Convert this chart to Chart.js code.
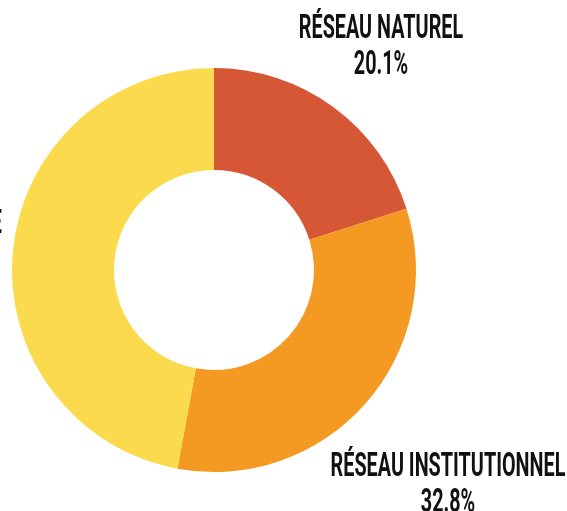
<!DOCTYPE html>
<html>
<head>
<meta charset="utf-8">
<script src="https://cdn.jsdelivr.net/npm/chart.js@4"></script>
<style>
  html, body { margin: 0; padding: 0; background: #fff; overflow: hidden; }
  #reseauChart { display: block; }
</style>
</head>
<body>
<canvas id="reseauChart" width="567" height="511"></canvas>
<script>
const categories = ['RÉSEAU NATUREL', 'RÉSEAU INSTITUTIONNEL', 'RÉSEAU MIXTE'];
const shares = [20.1, 32.8, 47.1];
const colors = ['#D55735', '#F49A23', '#FBDB4D'];

const ctx = document.getElementById('reseauChart');

new Chart(ctx, {
  type: 'doughnut',
  data: {
    labels: categories,
    datasets: [
      {
        data: shares,
        backgroundColor: colors,
        borderWidth: 0,
        hoverOffset: 0,
      },
    ],
  },
  options: {
    responsive: false,
    animation: false,
    cutout: '49.5%',
    layout: {
      padding: { left: 12, right: 151, top: 68, bottom: 39 },
    },
    plugins: {
      legend: { display: false },
      tooltip: { enabled: false },
      sliceLabels: {
        // anchor = centre of the label block (x) and baseline of its first line (y)
        anchors: [
          { x: 381, y: 38, align: 'center' },
          { x: 448, y: 476, align: 'center' },
          { x: 2, y: 233, align: 'right' },
        ],
      },
    },
  },
  plugins: [
    {
      id: 'sliceLabels',
      afterDraw(chart, args, opts) {
        const { ctx } = chart;
        const values = chart.data.datasets[0].data;
        const squeeze = 0.6; // condensed look
        const lineGap = 36;

        ctx.save();
        ctx.fillStyle = '#111';
        ctx.font = 'bold 33px Roboto';
        ctx.textBaseline = 'alphabetic';

        chart.data.labels.forEach((label, i) => {
          const a = opts.anchors[i];
          if (!a) return;
          const pct = values[i].toFixed(1) + '%';
          const w1 = ctx.measureText(label).width * squeeze;
          // centre of the block
          const cx = a.align === 'right' ? a.x - w1 / 2 : a.x;

          [label, pct].forEach((line, k) => {
            ctx.save();
            ctx.translate(cx, a.y + k * lineGap);
            ctx.scale(squeeze, 1);
            ctx.textAlign = 'center';
            ctx.fillText(line, 0, 0);
            ctx.restore();
          });
        });
        ctx.restore();
      },
    },
  ],
});
</script>
</body>
</html>
